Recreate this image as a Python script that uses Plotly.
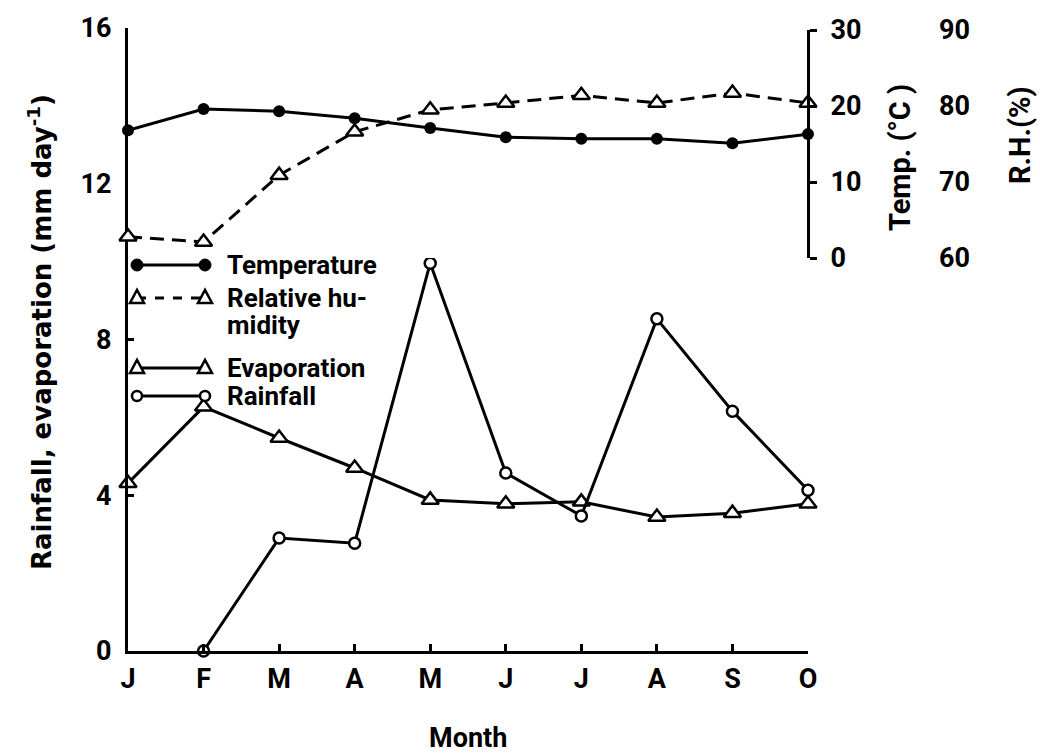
import plotly.graph_objects as go

months = ["J", "F", "M", "A", "M", "J", "J", "A", "S", "O"]
temperature = [16.8, 19.6, 19.3, 18.4, 17.1, 15.9, 15.7, 15.7, 15.1, 16.3]
rel_humidity = [62.8, 62.1, 70.9, 76.6, 79.5, 80.4, 81.4, 80.4, 81.7, 80.4]
evaporation = [4.31, 6.27, 5.47, 4.70, 3.88, 3.78, 3.83, 3.44, 3.54, 3.78]
rainfall = [None, 0.0, 2.90, 2.77, 9.96, 4.57, 3.47, 8.53, 6.16, 4.13]

left_ticks = [0, 4, 8, 12, 16]
temp_ticks = [0, 10, 20, 30]
rh_ticks = [60, 70, 80, 90]

FONT = "Roboto"
FS = 27
W, H = 1040, 756
ML, MR, MT, MB = 128, 20, 28, 105
PW = W - ML - MR
PH = H - MT - MB
XDOM_END = (808 - ML) / PW


def px(x):
    return (x - ML) / PW


def py(y):
    return (H - MB - y) / PH


xs = list(range(len(months)))
LW = 3

fig = go.Figure()

fig.add_trace(go.Scatter(
    x=xs, y=evaporation, mode="lines+markers", name="Evaporation",
    line=dict(color="black", width=LW),
    marker=dict(symbol="triangle-up", size=15, color="white",
                line=dict(color="black", width=2.5)),
    cliponaxis=False, yaxis="y"))

fig.add_trace(go.Scatter(
    x=xs, y=rainfall, mode="lines+markers", name="Rainfall",
    line=dict(color="black", width=LW),
    marker=dict(symbol="circle", size=11, color="white",
                line=dict(color="black", width=2.5)),
    cliponaxis=False, connectgaps=False, yaxis="y"))

fig.add_trace(go.Scatter(
    x=xs, y=temperature, mode="lines+markers", name="Temperature",
    line=dict(color="black", width=LW),
    marker=dict(symbol="circle", size=12, color="black"),
    cliponaxis=False, yaxis="y2"))

fig.add_trace(go.Scatter(
    x=xs, y=rel_humidity, mode="lines+markers", name="Relative humidity",
    line=dict(color="black", width=LW, dash="14px,8px"),
    marker=dict(symbol="triangle-up", size=15, color="white",
                line=dict(color="black", width=2.5)),
    cliponaxis=False, yaxis="y3"))

tickfont = dict(family=FONT, size=FS, color="black", weight="bold")

y2_bottom = py(258)
y2_top = py(30)

fig.update_layout(
    width=W, height=H,
    margin=dict(l=ML, r=MR, t=MT, b=MB, pad=0),
    paper_bgcolor="white", plot_bgcolor="white",
    showlegend=False,
    font=dict(family=FONT, color="black"),
    xaxis=dict(
        domain=[0, XDOM_END], range=[0, len(months) - 1],
        tickvals=xs, ticktext=months, tickfont=tickfont,
        showgrid=False, zeroline=False,
        showline=True, linecolor="black", linewidth=LW,
        ticks="inside", ticklen=7, tickwidth=2.5, tickcolor="black",
        anchor="y", ticklabelstandoff=2,
    ),
    yaxis=dict(
        range=[0, 16], tickvals=left_ticks, tickfont=tickfont,
        showgrid=False, zeroline=False,
        showline=True, linecolor="black", linewidth=LW,
        ticks="inside", ticklen=6, tickwidth=2.5, tickcolor="black",
        ticklabelstandoff=8,
    ),
    yaxis2=dict(
        domain=[y2_bottom, y2_top], range=[0, 30], tickvals=temp_ticks,
        tickfont=tickfont, side="right", anchor="free", position=XDOM_END,
        showgrid=False, zeroline=False,
        showline=True, linecolor="black", linewidth=LW,
        ticks="outside", ticklen=7, tickwidth=2.5, tickcolor="black",
        ticklabelstandoff=8,
    ),
    yaxis3=dict(
        range=[60, 90], tickvals=rh_ticks, tickfont=tickfont,
        side="right", anchor="free", overlaying="y2",
        position=px(938), showgrid=False, zeroline=False,
        showline=False, ticks="",
    ),
)


def label(x, y, text, angle=0, font=FONT, size=FS, xanchor="center"):
    fig.add_annotation(x=px(x), y=py(y), xref="paper", yref="paper",
                       xanchor=xanchor, yanchor="middle", align="left",
                       text="<b>" + text + "</b>", textangle=angle,
                       showarrow=False, borderpad=0,
                       font=dict(family=font, size=size, color="black"))


# Axis titles
label(40, 332, "Rainfall, evaporation (mm day<sup>-1</sup>)", angle=-90,
      font="DejaVu Sans", size=26)
label(468, 738, "Month")
label(900, 158, "Temp. (°C )", angle=-90, size=29)
label(1020, 135, "R.H.(%)", angle=-90, size=29)

# Custom legend (glyph line with a marker at each end, then text)
legend_rows = [
    (["Temperature"], 265, "solid", "dot"),
    (["Relative hu-", "midity"], 298, "dash", "tri"),
    (["Evaporation"], 368, "solid", "tri"),
    (["Rainfall"], 396, "solid", "ring"),
]
GX0, GX1 = 137, 205
for texts, yrow, dash, mk in legend_rows:
    fig.add_shape(type="line", xref="paper", yref="paper",
                  x0=px(GX0), x1=px(GX1), y0=py(yrow), y1=py(yrow),
                  line=dict(color="black", width=LW, dash=dash))
    for gx in (GX0, GX1):
        if mk == "dot":
            r = 6
            fig.add_shape(type="circle", xref="paper", yref="paper",
                          x0=px(gx - r), x1=px(gx + r), y0=py(yrow + r), y1=py(yrow - r),
                          fillcolor="black", line=dict(color="black", width=1))
        elif mk == "ring":
            r = 5
            fig.add_shape(type="circle", xref="paper", yref="paper",
                          x0=px(gx - r), x1=px(gx + r), y0=py(yrow + r), y1=py(yrow - r),
                          fillcolor="white", line=dict(color="black", width=2.5))
        else:
            path = "M {:.5f} {:.5f} L {:.5f} {:.5f} L {:.5f} {:.5f} Z".format(
                px(gx - 7), py(yrow + 5), px(gx + 7), py(yrow + 5), px(gx), py(yrow - 8))
            fig.add_shape(type="path", xref="paper", yref="paper", path=path,
                          fillcolor="white", line=dict(color="black", width=2.5))
    for i, t in enumerate(texts):
        label(226, yrow + 27 * i, t, xanchor="left", size=26)

fig.write_html("out.html")
